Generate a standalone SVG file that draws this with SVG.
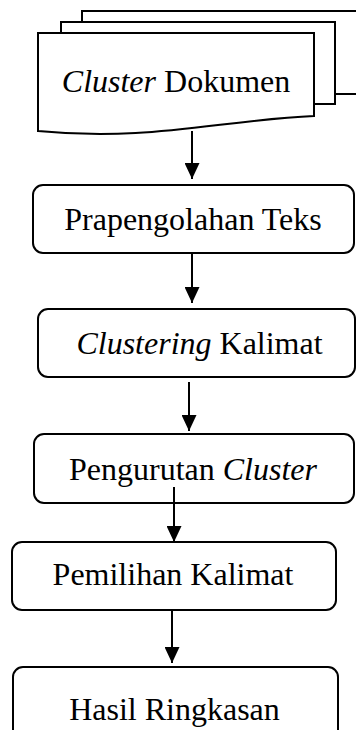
<svg xmlns="http://www.w3.org/2000/svg" width="356" height="730" viewBox="0 0 356 730">
<style>
.s{fill:#fff;stroke:#000;stroke-width:2}
.t{font-family:'Liberation Serif','Times New Roman',serif;font-size:32px;fill:#000;text-anchor:middle}
.i{font-style:italic}
.c{stroke:#000;stroke-width:2;fill:none}
</style>
<defs>
<marker id="ah" markerUnits="userSpaceOnUse" markerWidth="16" markerHeight="15" refX="16" refY="7.5" orient="auto">
<path d="M0,0 L16,7.5 L0,15 z" fill="#000"/>
</marker>
</defs>
<rect width="356" height="730" fill="#fff"/>
<g id="n1">
<rect class="s" x="82" y="11" width="290" height="83"/>
<rect class="s" x="61" y="22" width="274" height="82"/>
<path class="s" d="M38,33 H314 V116 C220,120 150,142 38,131 Z"/>
<text class="t" x="176" y="92"><tspan class="i">Cluster</tspan> Dokumen</text>
</g>
<g id="n2">
<rect class="s" x="33" y="185" width="321" height="68" rx="10"/>
<text class="t" x="193" y="230">Prapengolahan Teks</text>
</g>
<g id="n3">
<rect class="s" x="38" y="309" width="317" height="68" rx="10"/>
<text class="t" x="199.5" y="354"><tspan class="i">Clustering</tspan> Kalimat</text>
</g>
<g id="n4">
<rect class="s" x="34" y="434" width="320" height="69" rx="10"/>
<text class="t" x="193" y="480">Pengurutan <tspan class="i">Cluster</tspan></text>
</g>
<g id="n5">
<rect class="s" x="12" y="542" width="324" height="68" rx="10"/>
<text class="t" x="173" y="585">Pemilihan Kalimat</text>
</g>
<g id="n6">
<rect class="s" x="13" y="667" width="325" height="80" rx="10"/>
<text class="t" x="174.5" y="720">Hasil Ringkasan</text>
</g>
<g id="connectors">
<line class="c" x1="192" y1="131" x2="192" y2="179" marker-end="url(#ah)"/>
<line class="c" x1="192" y1="253" x2="192" y2="303" marker-end="url(#ah)"/>
<line class="c" x1="189" y1="382" x2="189" y2="431" marker-end="url(#ah)"/>
<line class="c" x1="174" y1="487" x2="174" y2="542" marker-end="url(#ah)"/>
<line class="c" x1="172" y1="610" x2="172" y2="663" marker-end="url(#ah)"/>
</g>
</svg>
